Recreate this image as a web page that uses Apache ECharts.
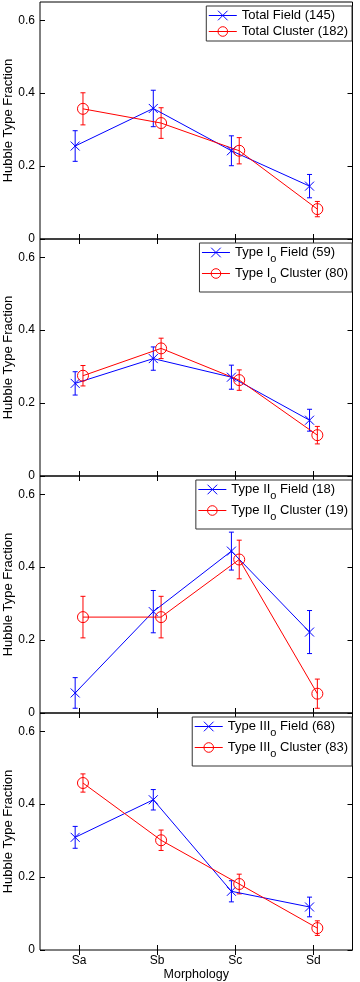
<!DOCTYPE html>
<html>
<head>
<meta charset="utf-8">
<script src="https://cdn.jsdelivr.net/npm/echarts@6/dist/echarts.min.js"></script>
<style>
  body { margin: 0; background: #fff; }
  #chart { width: 360px; height: 982px; }
</style>
</head>
<body>
<div id="chart"></div>
<script>
const categories = ['Sa', 'Sb', 'Sc', 'Sd']
const yTicks = [0, 0.2, 0.4, 0.6]

// one row per panel, one value per morphology
const fieldVals = [
  [0.255, 0.358, 0.242, 0.145],
  [0.254, 0.322, 0.271, 0.153],
  [0.055, 0.278, 0.444, 0.222],
  [0.309, 0.412, 0.161, 0.118]
]
const fieldErr = [
  [0.042, 0.050, 0.041, 0.032],
  [0.032, 0.032, 0.033, 0.030],
  [0.042, 0.058, 0.052, 0.059],
  [0.030, 0.028, 0.029, 0.027]
]
const clusterVals = [
  [0.357, 0.318, 0.242, 0.082],
  [0.275, 0.350, 0.263, 0.112],
  [0.263, 0.263, 0.421, 0.053],
  [0.458, 0.301, 0.181, 0.060]
]
const clusterErr = [
  [0.044, 0.042, 0.036, 0.021],
  [0.028, 0.028, 0.028, 0.024],
  [0.057, 0.057, 0.053, 0.040],
  [0.025, 0.028, 0.027, 0.020]
]
// legend text pieces: [before subscript, subscript, after subscript]
const fieldLabels = [
  ['Total Field (145)', '', ''],
  ['Type I', 'o', ' Field (59)'],
  ['Type II', 'o', ' Field (18)'],
  ['Type III', 'o', ' Field (68)']
]
const clusterLabels = [
  ['Total Cluster (182)', '', ''],
  ['Type I', 'o', ' Cluster (80)'],
  ['Type II', 'o', ' Cluster (19)'],
  ['Type III', 'o', ' Cluster (83)']
]

const BLUE = '#0000ff'
const RED = '#ff0000'
const FONT = 'Liberation Sans'
const PANEL_TOP = 2
const PANEL_H = 237
const OFFSET = 0.05
const X_SYMBOL = 'path://M0,0L10,10M10,0L0,10'

const richNames = {}
function plainName (p) { return p.join('') }
function richName (p) {
  return p[1] ? p[0] + '{s|' + p[1] + '}' + p[2] : p[0]
}
fieldLabels.concat(clusterLabels).forEach(p => { richNames[plainName(p)] = richName(p) })

function renderErr (params, api) {
  const x = api.value(0)
  const y = api.value(1)
  const e = api.value(2)
  const top = api.coord([x, y + e])
  const bot = api.coord([x, y - e])
  const w = 2.5
  const style = { stroke: api.visual('color'), lineWidth: 1 }
  return {
    type: 'group',
    children: [
      { type: 'line', shape: { x1: top[0], y1: top[1], x2: bot[0], y2: bot[1] }, style },
      { type: 'line', shape: { x1: top[0] - w, y1: top[1], x2: top[0] + w, y2: top[1] }, style },
      { type: 'line', shape: { x1: bot[0] - w, y1: bot[1], x2: bot[0] + w, y2: bot[1] }, style }
    ]
  }
}

const grids = []
const xAxes = []
const yAxes = []
const legends = []
const series = []

for (let i = 0; i < 4; i++) {
  const top = PANEL_TOP + PANEL_H * i
  const last = i === 3
  grids.push({
    left: 40, width: 312.5, top: top, height: PANEL_H,
    containLabel: false, outerBoundsMode: 'none',
    show: true, borderColor: '#000', borderWidth: 1
  })

  const xBase = {
    type: 'value', gridIndex: i, min: 0.5, max: 4.5,
    axisLine: { show: false },
    splitLine: { show: false },
    axisTick: { inside: true, length: 5, lineStyle: { color: '#000' }, customValues: [1, 2, 3, 4] }
  }
  xAxes.push(Object.assign({}, xBase, {
    position: 'bottom',
    axisLabel: {
      show: last, margin: 5, color: '#000', fontSize: 12, fontFamily: FONT,
      customValues: [1, 2, 3, 4],
      formatter: v => categories[Math.round(v) - 1]
    },
    name: last ? 'Morphology' : '',
    nameLocation: 'middle', nameGap: 18, nameMoveOverlap: false,
    nameTextStyle: { color: '#000', fontSize: 12.5, fontFamily: FONT }
  }))
  xAxes.push(Object.assign({}, xBase, { position: 'top', axisLabel: { show: false } }))

  const yBase = {
    type: 'value', gridIndex: i, min: 0, max: 0.65,
    axisLine: { show: false },
    splitLine: { show: false },
    axisTick: { inside: true, length: 5, lineStyle: { color: '#000' }, customValues: yTicks }
  }
  yAxes.push(Object.assign({}, yBase, {
    position: 'left',
    axisLabel: {
      margin: 5, color: '#000', fontSize: 12, fontFamily: FONT,
      customValues: yTicks,
      formatter: v => (v === 0 ? '0' : v.toFixed(1))
    },
    name: 'Hubble Type Fraction',
    nameLocation: 'middle', nameGap: 25, nameMoveOverlap: false,
    nameTextStyle: { color: '#000', fontSize: 13, fontFamily: FONT }
  }))
  yAxes.push(Object.assign({}, yBase, { position: 'right', axisLabel: { show: false } }))

  const fName = plainName(fieldLabels[i])
  const cName = plainName(clusterLabels[i])
  legends.push({
    orient: 'vertical',
    right: 8,
    top: top + 4,
    data: [
      { name: fName, itemStyle: { color: 'transparent', borderColor: BLUE, borderWidth: 1 } },
      { name: cName, itemStyle: { color: 'transparent', borderColor: RED, borderWidth: 1 } }
    ],
    selectedMode: false,
    itemWidth: 28,
    itemHeight: 12,
    itemGap: 3,
    padding: i === 0 ? [3, 4, 3, 2] : [3, 4, 7, 2],
    backgroundColor: '#fff',
    borderColor: '#333',
    borderWidth: 1,
    lineStyle: { width: 1 },
    formatter: name => richNames[name],
    textStyle: {
      color: '#000', fontSize: 13, fontFamily: FONT,
      rich: { s: { color: '#000', fontSize: 11, fontFamily: FONT, padding: [12, 0, 0, 0] } }
    }
  })

  const fData = fieldVals[i].map((v, k) => [k + 1 - OFFSET, v, fieldErr[i][k]])
  const cData = clusterVals[i].map((v, k) => [k + 1 + OFFSET, v, clusterErr[i][k]])

  series.push({
    name: fName, type: 'line', xAxisIndex: 2 * i, yAxisIndex: 2 * i,
    data: fData.map(d => [d[0], d[1]]),
    symbol: X_SYMBOL, symbolSize: 9,
    lineStyle: { color: BLUE, width: 1 },
    itemStyle: { color: 'transparent', borderColor: BLUE, borderWidth: 1 },
    z: 3
  })
  series.push({
    name: cName, type: 'line', xAxisIndex: 2 * i, yAxisIndex: 2 * i,
    data: cData.map(d => [d[0], d[1]]),
    symbol: 'circle', symbolSize: 11,
    lineStyle: { color: RED, width: 1 },
    itemStyle: { color: 'transparent', borderColor: RED, borderWidth: 1 },
    z: 3
  })
  series.push({
    name: fName + ' err', type: 'custom', xAxisIndex: 2 * i, yAxisIndex: 2 * i,
    data: fData, renderItem: renderErr, color: BLUE,
    encode: { x: 0, y: 1 }, z: 2
  })
  series.push({
    name: cName + ' err', type: 'custom', xAxisIndex: 2 * i, yAxisIndex: 2 * i,
    data: cData, renderItem: renderErr, color: RED,
    encode: { x: 0, y: 1 }, z: 2
  })
}

const myChart = echarts.init(document.getElementById('chart'))
myChart.setOption({
  animation: false,
  backgroundColor: '#fff',
  tooltip: { show: false },
  grid: grids,
  xAxis: xAxes,
  yAxis: yAxes,
  legend: legends,
  series: series
})
</script>
</body>
</html>
